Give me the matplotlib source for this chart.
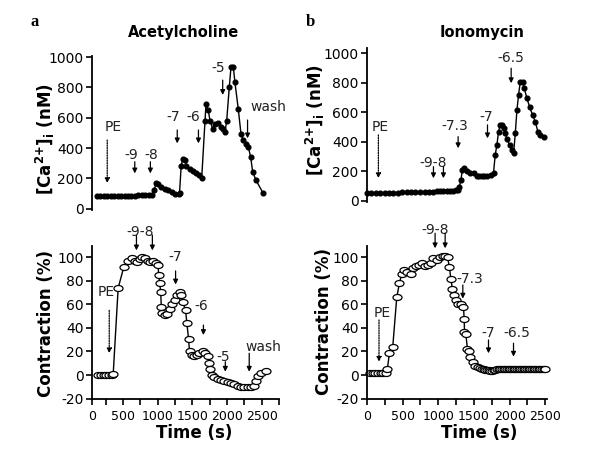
import numpy as np
import matplotlib
matplotlib.use("Agg")
import matplotlib.pyplot as plt
from matplotlib.path import Path
from matplotlib.transforms import Affine2D

plt.rcParams['font.family'] = ['DejaVu Sans']
plt.rcParams['mathtext.default'] = 'bf'
plt.rcParams['axes.unicode_minus'] = False

# ---- data ----
# panel a, [Ca2+]i (nM), acetylcholine
ach_ca_t = [120, 170, 220, 270, 320, 370, 420, 470, 520, 570, 620, 670, 720, 770, 820, 870, 920,
            950, 975, 1010, 1050, 1100, 1150, 1200, 1250, 1300,
            1314, 1338, 1362, 1386, 1410, 1458, 1506, 1554, 1601, 1634,
            1682, 1696, 1729, 1754, 1793, 1826, 1874, 1908, 1946, 1970, 1995, 2032, 2057, 2090,
            2114, 2162, 2201, 2235, 2269, 2307, 2341, 2370, 2418, 2523]
ach_ca = [85, 84, 84, 84, 84, 84, 85, 85, 85, 86, 86, 87, 88, 89, 90, 91, 92,
          125, 170, 165, 143, 130, 122, 112, 100, 98,
          104, 285, 329, 323, 285, 264, 248, 235, 224, 200,
          581, 690, 648, 581, 527, 560, 567, 541, 527, 505, 581, 800, 935, 935,
          833, 658, 494, 451, 429, 407, 341, 243, 188, 101]

# panel b, [Ca2+]i (nM), ionomycin
iono_ca_t = [0, 60, 120, 183, 250, 310, 370, 430, 490, 557, 620, 680, 744, 810, 870, 932, 980,
             1025, 1070, 1119, 1165, 1212, 1250, 1283,
             1297, 1316, 1339, 1362, 1400, 1447, 1494, 1541, 1576, 1611, 1646, 1681, 1737, 1775,
             1798, 1822, 1845, 1869, 1892, 1915, 1939, 1962, 2000, 2033, 2056, 2080, 2103, 2126,
             2150, 2182, 2205, 2243, 2280, 2322, 2360, 2397, 2430, 2477]
iono_ca = [56, 56, 56, 56, 56, 57, 56, 57, 58, 61, 60, 61, 62, 62, 63, 63, 65,
           67, 68, 70, 70, 70, 72, 74,
           97, 142, 210, 221, 205, 192, 192, 169, 169, 169, 169, 169, 176, 192,
           311, 379, 469, 515, 515, 492, 458, 418, 379, 345, 323, 458, 616, 718,
           808, 808, 763, 695, 638, 582, 537, 469, 447, 435]

# panel a, contraction (%)
ach_con_t = [140, 179, 217, 255, 294, 332, 356,
             428, 510, 572, 630, 668, 702, 740, 779, 822, 860, 894, 932, 970, 1003,
             1013, 1027, 1042, 1051, 1061, 1099, 1138, 1171, 1205, 1243, 1277, 1314, 1338,
             1362, 1401, 1420, 1444, 1458, 1496, 1530, 1564, 1601, 1649, 1688, 1721, 1745,
             1760, 1779, 1817, 1865, 1913, 1961, 2009, 2057, 2105, 2153, 2201, 2249, 2297,
             2345, 2393, 2417, 2441, 2489, 2560]
ach_con = [0, 0, 0, 0, 0, 0, 0.5,
           74, 92, 97, 99.5, 97, 96, 98.6, 100, 99.5, 97, 96, 97, 95, 94,
           85, 78, 70.6, 58, 53, 51, 51.5, 56, 60, 63.6, 68, 70.6, 68,
           62, 55, 44, 31, 20, 17, 16, 17.4, 19, 20, 19, 16, 10,
           5, 0, -2, -3.5, -4, -5, -6, -7, -8, -9, -10, -10.5, -10.5,
           -10.5, -9, -5, -1, 2, 3.5]

# panel b, contraction (%)
iono_con_t = [42, 80, 117, 155, 192, 230, 267, 286, 314, 361, 417, 454, 487, 520, 567, 614,
              651, 688, 735, 777, 815, 862, 899, 932, 979, 1017, 1059, 1096, 1129, 1157,
              1175, 1199, 1222, 1250, 1283, 1316, 1353, 1363, 1367, 1386, 1409, 1433, 1447,
              1480, 1517, 1555, 1585, 1611, 1635, 1658, 1682, 1705, 1728, 1752, 1775, 1798,
              1822, 1845, 1870, 1895, 1915, 1940, 1965, 1986, 2010, 2035, 2056, 2080, 2105,
              2126, 2150, 2175, 2196, 2220, 2245, 2266, 2290, 2315, 2337, 2360, 2385, 2407,
              2430, 2455, 2480, 2500]
iono_con = [2, 2, 2, 2, 2, 2, 2, 5.3, 18.5, 24, 66, 78, 86, 89, 88, 86,
            91, 92.4, 93.5, 95, 92.4, 93.5, 95.4, 99.5, 97.8, 100, 101.6, 101.6, 100, 91.6,
            82, 73, 68, 63.5, 60.7, 60, 58, 47.5, 37, 35, 22, 20, 15,
            11, 8, 6.5, 6, 5.5, 5, 4.5, 4, 4, 3.5, 3.5, 4, 4.5,
            5, 5.5, 5.5, 5.5, 5.5, 5.5, 5.5, 5.5, 5.5, 5.5, 5.5, 5.5, 5.5,
            5.5, 5.5, 5.5, 5.5, 5.5, 5.5, 5.5, 5.5, 5.5, 5.5, 5.5, 5.5, 5.5,
            5.5, 5.5, 5.5, 5.5]

# (label, arrow x, arrow start y, arrow end y, text x, text y, dotted)
ach_ca_marks = [("PE", 270, 453, 169, 353, 539, True),
                ("-9", 668, 310, 233, 623, 353, False),
                ("-8", 893, 310, 233, 912, 353, False),
                ("-7", 1281, 519, 431, 1220, 604, False),
                ("-6", 1587, 519, 431, 1508, 604, False),
                ("-5", 1937, 848, 750, 1869, 927, False),
                ("wash", 2296, 585, 464, 2591, 670, False)]
iono_ca_marks = [("PE", 159, 447, 154, 183, 501, True),
                 ("-9-8", 932, 232, 154, 927, 257, False),
                 ("", 1072, 232, 154, 0, 0, False),
                 ("-7.3", 1278, 435, 357, 1236, 508, False),
                 ("-7", 1690, 515, 424, 1671, 569, False),
                 ("-6.5", 2022, 898, 797, 2018, 968, False)]
ach_con_marks = [("-9-8", 692, 119, 106, 743, 122, False),
                 ("", 922, 119, 106, 0, 0, False),
                 ("-7", 1257, 88.5, 77, 1248, 100.7, False),
                 ("PE", 299, 55, 18.5, 252, 71, True),
                 ("-6", 1659, 42.5, 34, 1634, 58.7, False),
                 ("-5", 1975, 11.3, 2.8, 1941, 15.6, False),
                 ("wash", 2320, 18.5, 2.8, 2519, 24, False)]
iono_con_marks = [("-9-8", 955, 120.6, 107.8, 955, 123, False),
                  ("", 1096, 120.6, 107.8, 0, 0, False),
                  ("-7.3", 1344, 76.6, 65, 1447, 82, False),
                  ("PE", 168, 46.8, 11.3, 206, 52.5, True),
                  ("-7", 1704, 29.8, 18.5, 1699, 35.7, False),
                  ("-6.5", 2055, 27, 15.6, 2102, 35.7, False)]

ellipse = Path.unit_circle().transformed(Affine2D().scale(1.5, 1.0))


def add_marks(ax, marks):
    for label, ax_x, y0, y1, tx, ty, dotted in marks:
        ax.annotate("", xy=(ax_x, y1), xytext=(ax_x, y0),
                    arrowprops=dict(arrowstyle="-|>", color="k", lw=0.9,
                                    mutation_scale=7, shrinkA=0, shrinkB=0,
                                    linestyle=(0, (1, 1)) if dotted else "-"),
                    annotation_clip=False)
        if label:
            ax.text(tx, ty, label, ha="center", va="center", fontsize=10,
                    color="#222222", clip_on=False)


def style(ax, bottom_axis):
    for s in ["top", "right"]:
        ax.spines[s].set_visible(False)
    for s in ["left", "bottom"]:
        ax.spines[s].set_linewidth(1.3)
    ax.tick_params(axis="y", labelsize=10, length=4, width=1.2, pad=2)
    if bottom_axis:
        ax.tick_params(axis="x", which="both", labelsize=9, length=4, width=1.2, pad=4)
    else:
        ax.spines["bottom"].set_visible(False)
        ax.set_xticks([])


fig = plt.figure(figsize=(6, 4.5), dpi=100)
fig.patch.set_facecolor("white")

ax_a1 = fig.add_axes([0.1533, 0.5344, 0.3117, 0.3422])
ax_b1 = fig.add_axes([0.6117, 0.5511, 0.3000, 0.3422])
ax_a2 = fig.add_axes([0.1533, 0.1144, 0.3117, 0.3396])
ax_b2 = fig.add_axes([0.6117, 0.1144, 0.3000, 0.3396])

# top panels: filled markers
for ax, t, v, marks, lim in [(ax_a1, ach_ca_t, ach_ca, ach_ca_marks, (-5, 1010)),
                             (ax_b1, iono_ca_t, iono_ca, iono_ca_marks, (-7, 1035))]:
    ax.plot(t, v, color="k", lw=1.0, marker="o", markersize=3.4,
            markerfacecolor="k", markeredgecolor="k", clip_on=False)
    ax.set_ylim(*lim)
    ax.set_yticks(np.arange(0, 1001, 200))
    style(ax, False)
    add_marks(ax, marks)
    ax.set_ylabel("[Ca$^{2{+}}$]$_i$ (nM)", fontsize=12, fontweight="bold")

ax_a1.set_xlim(50, 2750)
ax_b1.set_xlim(0, 2525)

# bottom panels: open elongated markers
for ax, t, v, marks in [(ax_a2, ach_con_t, ach_con, ach_con_marks),
                        (ax_b2, iono_con_t, iono_con, iono_con_marks)]:
    ax.plot(t, v, color="k", lw=1.0, marker=ellipse, markersize=6.5,
            markerfacecolor="white", markeredgecolor="k", markeredgewidth=0.9,
            clip_on=False)
    ax.set_ylim(-20, 110)
    ax.set_yticks(np.arange(-20, 101, 20))
    ax.set_xticks(np.arange(250, 2751, 500), minor=True)
    style(ax, True)
    add_marks(ax, marks)
    ax.set_ylabel("Contraction (%)", fontsize=12, fontweight="bold")
    ax.set_xlabel("Time (s)", fontsize=12, fontweight="bold")

ax_a2.set_xlim(50, 2750)
ax_a2.set_xticks([50, 500, 1000, 1500, 2000, 2500],
                 labels=["0", "500", "1000", "1500", "2000", "2500"])
ax_b2.set_xlim(0, 2525)
ax_b2.set_xticks([0, 500, 1000, 1500, 2000, 2500])

# label placement
ax_a1.yaxis.set_label_coords(-0.187, 0.455)
ax_b1.yaxis.set_label_coords(-0.222, 0.53)
ax_a2.yaxis.set_label_coords(-0.198, 0.488)
ax_b2.yaxis.set_label_coords(-0.19, 0.504)
ax_a2.xaxis.set_label_coords(0.545, -0.167)
ax_b2.xaxis.set_label_coords(0.622, -0.167)

fig.text(184 / 600, 1 - 33 / 450, "Acetylcholine", ha="center", va="center",
         fontsize=10.5, fontweight="bold")
fig.text(482 / 600, 1 - 33 / 450, "Ionomycin", ha="center", va="center",
         fontsize=10.5, fontweight="bold")
fig.text(35 / 600, 1 - 22 / 450, "a", ha="center", va="center",
         fontsize=12, fontweight="bold", family="Liberation Serif")
fig.text(310 / 600, 1 - 22 / 450, "b", ha="center", va="center",
         fontsize=12, fontweight="bold", family="Liberation Serif")

fig.savefig("out.png", dpi=100)
